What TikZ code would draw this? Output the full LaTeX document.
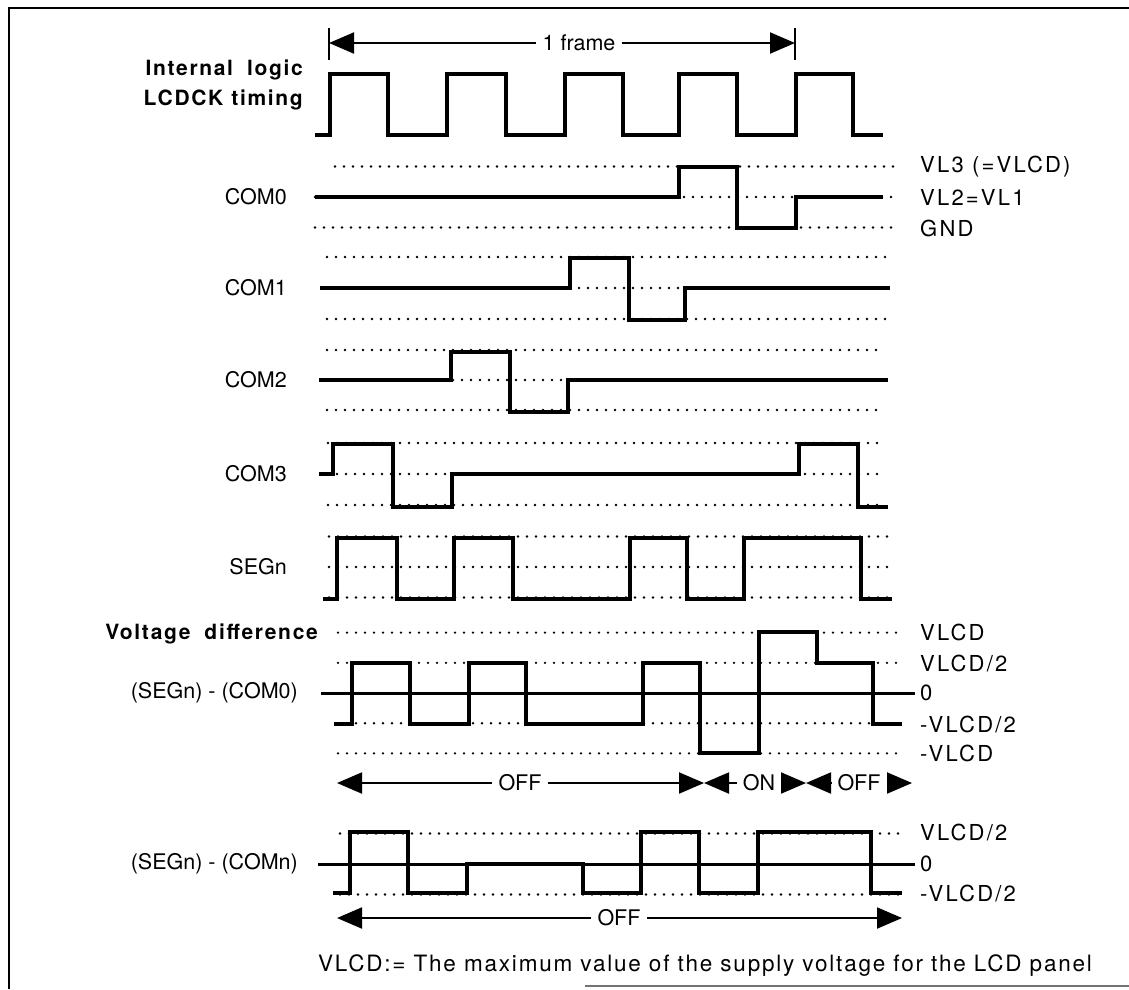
\documentclass[tikz,border=0pt]{standalone}
\usepackage{fontspec}
\setmainfont{TeX Gyre Heros}
\newfontfamily\trkfont[LetterSpace=8]{TeX Gyre Heros}
\newfontfamily\widefont[LetterSpace=10]{TeX Gyre Heros}
\usepackage{tikz}
\usetikzlibrary{arrows.meta}
\usetikzlibrary{positioning}
\tikzstyle{border} = [draw,line width=2.8pt]
\tikzstyle{wavefm} = [draw,line width=3.2pt]
\tikzstyle{lvl} = [draw,line width=2.6pt,line cap=round,dash pattern=on 0pt off 9pt]
\tikzstyle{zeroline} = [draw,line width=3pt]
\tikzstyle{dimarrow} = [draw,line width=2pt,-{Triangle[length=25pt,width=21pt]}]
\tikzstyle{frametick} = [draw,line width=2.2pt]
\tikzstyle{lbl} = [inner sep=0pt,font=\fontsize{21.5}{25}\selectfont]
\tikzstyle{vlbl} = [inner sep=0pt,anchor=west,font=\widefont\fontsize{22}{25}\selectfont]
\tikzstyle{hdr} = [inner sep=0pt,align=right,font=\trkfont\bfseries\fontsize{21}{30}\selectfont]
\tikzstyle{notetxt} = [inner sep=0pt,font=\trkfont\fontsize{22.5}{26}\selectfont]
\tikzset{dimtext/.style={lbl,inner sep=6pt}}

\begin{document}
\begin{tikzpicture}[x=1pt,y=-1pt]
\useasboundingbox (0,0) rectangle (1129,989);

 % frame
 \draw[border] (9,989) -- (9,8) -- (1129,8);
 \draw[line width=1.4pt,black!55] (585,986) -- (1129,986);

 % 1 frame
 \coordinate (fl) at (329,43);
 \coordinate (fr) at (795,43);
 \node[dimtext] (frame) at (579,43) {1 frame};
 \draw[dimarrow] (frame) -- (fl);
 \draw[dimarrow] (frame) -- (fr);
 \foreach \c in {fl,fr}
   \draw[frametick] ([yshift=15pt]\c) -- ([yshift=-17pt]\c);

 % LCDCK
 \node[hdr,anchor=east] (clk) at (303,85) {Internal\hspace{14pt}logic\\LCDCK\hspace{8pt}timing};
 \draw[wavefm] (315,135) -| (330,74) -| (388,135) -| (447,74) -| (506,135) -| (565,74)
   -| (623,135) -| (679,74) -| (737,135) -| (796,74) -| (853,135) -- (883,135);

 % row labels
 \foreach \y/\name/\label in {197/com0/COM0, 288/com1/COM1, 380/com2/COM2, 474/com3/COM3, 567/segn/SEGn}
   \node[lbl,anchor=east] (\name) at (287,\y) {\label};

 %COM0
 \def\dy{197};
 \foreach \xs/\k in {335/-1, 315/0, 315/1}
   \draw[lvl] (\xs,\dy+30.5*\k) -- (895,\dy+30.5*\k);
 \draw[wavefm] (315,\dy) -| (679,\dy-30) -| (737,\dy+31) -| (796,\dy) -- (883,\dy);

 %COM1
 \def\dy{288};
 \foreach \k in {-1,0,1}
   \draw[lvl] (327,\dy+31*\k) -- (890,\dy+31*\k);
 \draw[wavefm] (320,\dy) -| (570,\dy-30) -| (629,\dy+32) -| (685,\dy) -- (890,\dy);

 %COM2
 \def\dy{380};
 \foreach \k in {-1,0,1}
   \draw[lvl] (327,\dy+30*\k) -- (882,\dy+30*\k);
 \draw[wavefm] (319,\dy) -| (451,\dy-28) -| (510,\dy+32) -| (568,\dy) -- (888,\dy);

 %COM3
 \def\dy{474};
 \foreach \k in {-1,0,1}
   \draw[lvl] (328,\dy+31*\k) -- (882,\dy+31*\k);
 \draw[wavefm] (319,\dy) -| (333,\dy-30) -| (393,\dy+33) -| (452,\dy) -| (799,\dy-30)
   -| (858,\dy+33) -- (888,\dy+33);

 %SEGn
 \def\dy{567};
 \foreach \k in {-1,0,1}
   \draw[lvl] (329,\dy+30.5*\k) -- (892,\dy+30.5*\k);
 \draw[wavefm] (323,\dy+32) -| (337,\dy-29) -| (397,\dy+32) -| (454,\dy-29) -| (513,\dy+32)
   -| (630,\dy-29) -| (687,\dy+32) -| (744,\dy-29) -| (861,\dy+32) -- (892,\dy+32);

 % voltage difference
 \node[hdr,anchor=east] (vdiff) at (318,634) {Voltage\hspace{14pt}difference};
 \node[lbl,anchor=east] (dcom0) at (298,693) {(SEGn) - (COM0)};
 \node[lbl,anchor=east] (dcomn) at (298,864) {(SEGn) - (COMn)};

 %SEGn-COM0
 \def\dy{693};
 \foreach \k in {-2,-1,1,2}
   \draw[lvl] (338,\dy+30.2*\k) -- (902,\dy+30.2*\k);
 \draw[zeroline] (321,\dy) -- (915,\dy);
 \draw[wavefm] (334,\dy+31) -| (352,\dy-30) -| (410,\dy+31) -| (469,\dy-30) -| (526,\dy+31)
   -| (643,\dy-30) -| (700,\dy+60) -| (759,\dy-61) -| (817,\dy-30) -| (873,\dy+31) -- (902,\dy+31);

 %SEGn-COMn
 \def\dy{864};
 \foreach \k in {-1,1}
   \draw[lvl] (340,\dy+30.5*\k) -- (902,\dy+30.5*\k);
 \draw[zeroline] (318,\dy) -- (915,\dy);
 \draw[wavefm] (333,\dy+29) -| (350,\dy-32) -| (408,\dy+29) -| (467,\dy) -| (583,\dy+29)
   -| (641,\dy-32) -| (699,\dy+29) -| (758,\dy-32) -| (871,\dy+29) -- (902,\dy+29);

 % level names
 \foreach \y/\name/\label in {167/vlthree/{VL3 (=VLCD)}, 197/vltwo/{VL2=VL1}, 228/gnd/GND,
     632/vlcd/VLCD, 663/vhalf/{VLCD/2}, 693/zeroa/0, 724/vmhalf/{-VLCD/2}, 753/vmin/-VLCD,
     832/vhalfb/{VLCD/2}, 864/zerob/0, 893/vmhalfb/{-VLCD/2}}
   \node[vlbl] (\name) at (920,\y) {\label};

 % OFF / ON / OFF
 \coordinate (aa) at (337,783);
 \node[dimtext] (offa) at (520,783) {OFF};
 \coordinate (ab) at (704,783);
 \node[dimtext] (on) at (759,783) {ON};
 \coordinate (ac) at (806,783);
 \node[dimtext] (offb) at (859,783) {OFF};
 \coordinate (ad) at (912,783);
 \foreach \source/\dest in {offa/aa, offa/ab, on/ab, on/ac, offb/ac, offb/ad}
   \draw[dimarrow] (\source) -- (\dest);

 % OFF (COMn)
 \coordinate (ba) at (337,918);
 \node[dimtext] (offc) at (619,918) {OFF};
 \coordinate (bb) at (902,918);
 \draw[dimarrow] (offc) -- (ba);
 \draw[dimarrow] (offc) -- (bb);

 \node[notetxt] (vnote) at (705,966) {VLCD:= The maximum value of the supply voltage for the LCD panel};

\end{tikzpicture}
\end{document}
